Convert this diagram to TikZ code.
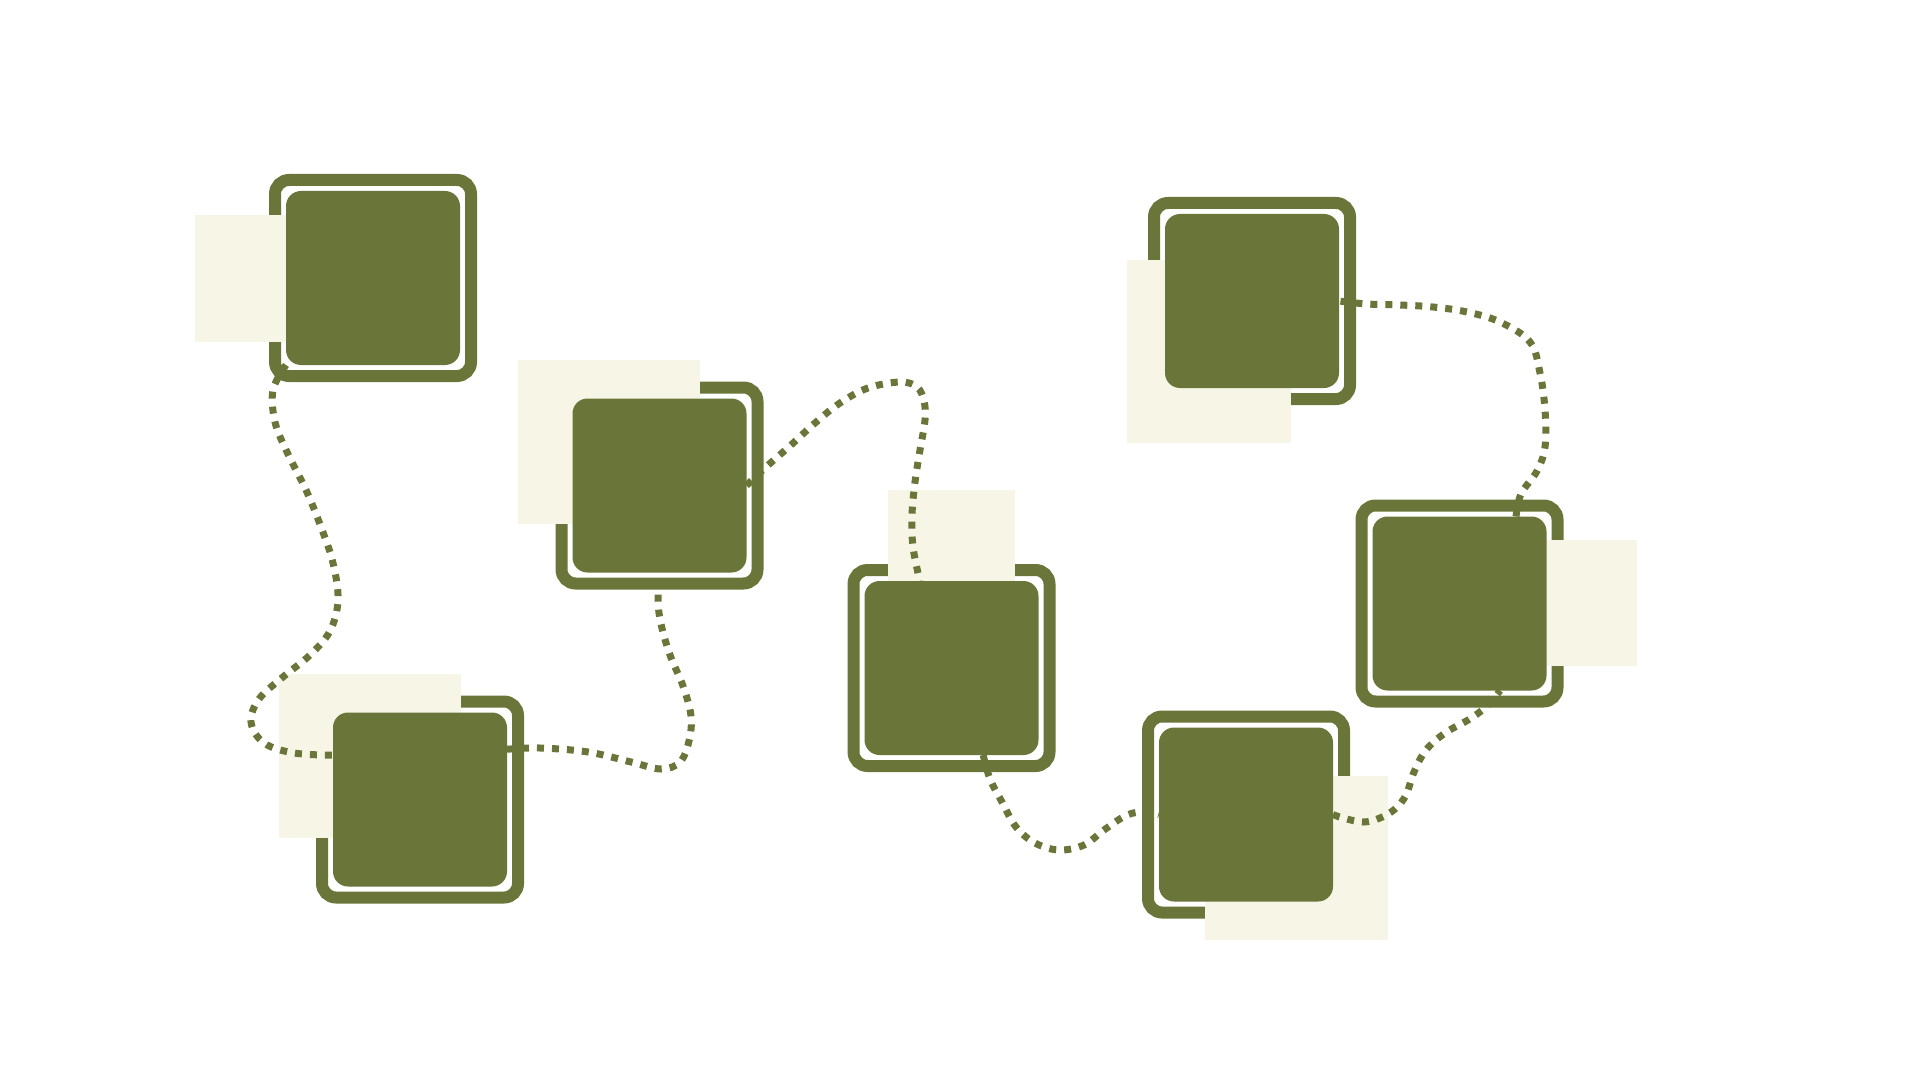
\documentclass[tikz,border=0pt]{standalone}
\usepackage{tikz}
\definecolor{olv}{RGB}{106,118,57}
\definecolor{crm}{RGB}{247,246,230}
\pgfdeclarelayer{back}
\pgfdeclarelayer{mid}
\pgfsetlayers{back,mid,main}
\tikzset{
  framebox/.style={draw=olv, line width=6pt, fill=white, rounded corners=7pt, minimum size=98pt, inner sep=0pt, outer sep=0pt},
  corebox/.style={fill=olv, draw=none, rounded corners=7.5pt, minimum size=87pt, inner sep=0pt, outer sep=0pt},
  creamrect/.style={fill=crm, draw=none},
  conn/.style={draw=olv, line width=3.5pt, dash pattern=on 3.5pt off 4pt, line cap=butt}
}
\begin{document}
\begin{tikzpicture}[x=0.5pt, y=-0.5pt]
\useasboundingbox (0,0) rectangle (1920,1080);
% inner boxes (top layer)
\node[corebox] (b1) at (373,278) {};
\node[corebox] (b2) at (659.5,485.5) {};
\node[corebox] (b3) at (420,799.5) {};
\node[corebox] (b4) at (951.5,668) {};
\node[corebox] (b5) at (1252,301) {};
\node[corebox] (b6) at (1459.5,603.5) {};
\node[corebox] (b7) at (1246,814.5) {};
\begin{pgfonlayer}{back}
\node[framebox] (f1) at (b1) {};
\node[framebox] (f2) at (b2) {};
\node[framebox] (f3) at (b3) {};
\node[framebox] (f4) at (b4) {};
\node[framebox] (f5) at (b5) {};
\node[framebox] (f6) at (b6) {};
\node[framebox] (f7) at (b7) {};
\fill[creamrect] (195,215) rectangle (330,342);
\fill[creamrect] (518,360) rectangle (700,523.5);
\fill[creamrect] (278.5,674) rectangle (460.5,837.5);
\fill[creamrect] (887.5,490) rectangle (1014.5,650);
\fill[creamrect] (1126.5,260) rectangle (1290.5,442.5);
\fill[creamrect] (1500,539.5) rectangle (1636.5,666);
\fill[creamrect] (1205,776) rectangle (1387.5,939.5);
\end{pgfonlayer}
\begin{pgfonlayer}{mid}
\draw[conn] plot[smooth, tension=0.6] coordinates {(b1.south west) (273,390) (275,422) (287,452) (306,490) (321,527) (333,563) (338,600) (330,631) (310,655) (283,677) (259,699) (251,722) (264,743) (294,753) (b3.153)};
\draw[conn] plot[smooth, tension=0.6] coordinates {(b3.30) (540,748) (588,752) (631,762) (661,769) (680,762) (689,741) (691,716) (683,686) (670,655) (661,624) (658,600) (b2.south)};
\draw[conn] plot[smooth, tension=0.6] coordinates {(b2.east) (766,467) (791,445) (815,423) (840,403) (868,388) (900,382) (917,387) (924,401) (925,420) (920,450) (915,482) (912,515) (913,547) (b4.110)};
\draw[conn] plot[smooth, tension=0.6] coordinates {(b4.290) (990,779) (1002,802) (1016,827) (1035,843) (1059,850) (1084,845) (1104,830) (1127,815) (1145,812) (b7.west)};
\draw[conn] plot[smooth, tension=0.6] coordinates {(b7.east) (1343,818) (1363,822) (1380,818) (1395,809) (1406,795) (1414,772) (1426,750) (1445,733) (1468,720) (1486,707) (b6.295)};
\draw[conn] plot[smooth, tension=0.6] coordinates {(b6.57) (1521,494) (1537,471) (1545,447) (1545,410) (1540,373) (1530,342) (1500,322) (1467,312) (1433,307) (1400,305) (1367,304) (b5.east)};
\end{pgfonlayer}
\end{tikzpicture}
\end{document}
